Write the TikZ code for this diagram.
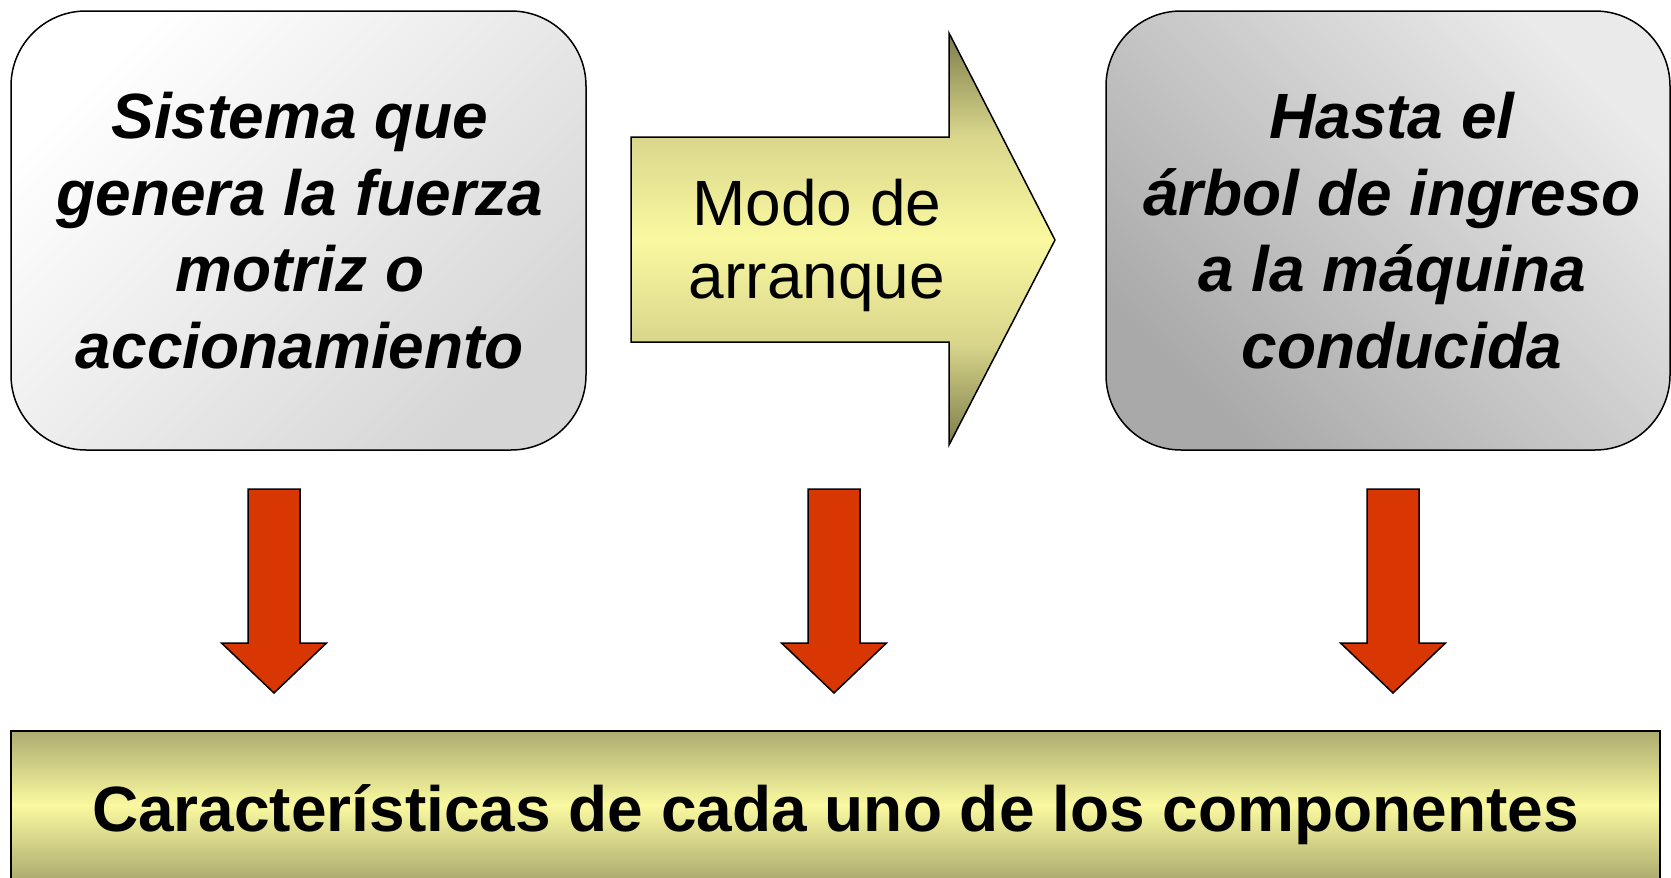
\documentclass[tikz,border=0pt]{standalone}
\usepackage{fontspec}
\setmainfont{Liberation Sans}
\definecolor{olv}{HTML}{7E7D4C}
\definecolor{shaftc}{HTML}{D9D68C}
\definecolor{yel}{HTML}{FAF9A0}
\definecolor{barolv}{HTML}{ADAC70}
\definecolor{redarr}{HTML}{D83602}
\definecolor{lightA}{HTML}{FFFFFF}
\definecolor{lightB}{HTML}{D6D6D6}
\definecolor{grayA}{HTML}{EAEAEA}
\definecolor{grayB}{HTML}{A9A9A9}
\pgfdeclareverticalshading{arrowshade}{100bp}{color(0bp)=(olv); color(25bp)=(olv); color(37.5bp)=(shaftc); color(50bp)=(yel); color(62.5bp)=(shaftc); color(75bp)=(olv); color(100bp)=(olv)}
\pgfdeclareverticalshading{barshade}{100bp}{color(0bp)=(barolv); color(25bp)=(barolv); color(50bp)=(yel); color(75bp)=(barolv); color(100bp)=(barolv)}
\begin{document}
\begin{tikzpicture}[x=1pt,y=-1pt,
  outl/.style={draw=black, line width=1.5pt, line join=miter},
  roundbox/.style={outl, rounded corners=75pt, outer sep=0pt, inner sep=0pt},
  boxtext/.style={align=center, inner sep=0pt, anchor=base, font=\fontsize{64}{76.5}\selectfont\bfseries\itshape},
  downarr/.pic={\path[outl, fill=redarr] (-26,0) -- (26,0) -- (26,154) -- (52.5,154) -- (0,204) -- (-52.5,154) -- (-26,154) -- cycle;}
]
\useasboundingbox (0,0) rectangle (1671,878);
% left box
\node[roundbox, minimum width=575, minimum height=439, shading=axis, top color=lightA, bottom color=lightB, shading angle=45]
  (gen) at (298.5,230.5) {};
\node[boxtext] (gentxt) at (300,368) {Sistema que\\genera la fuerza\\motriz o\\accionamiento};
% right box
\node[roundbox, minimum width=564, minimum height=439, shading=axis, top color=grayA, bottom color=grayB, shading angle=-45]
  (arb) at (1388,230.5) {};
\node[boxtext] (arbtxt) at (1392,368) {Hasta el\\árbol de ingreso\\a la máquina\\\hspace*{20pt}conducida};
% big arrow
\path[outl, shading=arrowshade] (631,137) -- (949,137) -- (949,33) -- (1055,240) -- (949,445) -- (949,342) -- (631,342) -- cycle;
\node[align=center, inner sep=0pt, anchor=base, font=\fontsize{64}{73}\selectfont] (modo) at (817,298) {Modo de\\arranque};
% red arrows
\pic at (274,489) {downarr};
\pic at (834,489) {downarr};
\pic at (1393,489) {downarr};
% bottom bar
\node[outl, shading=barshade, minimum width=1649, minimum height=148, inner sep=0pt, outer sep=0pt] (carac) at (835.5,805) {};
\node[inner sep=0pt, anchor=base, font=\fontsize{64}{80}\selectfont\bfseries] (caractxt) at (835.5,831) {Características de cada uno de los componentes};
\end{tikzpicture}
\end{document}
